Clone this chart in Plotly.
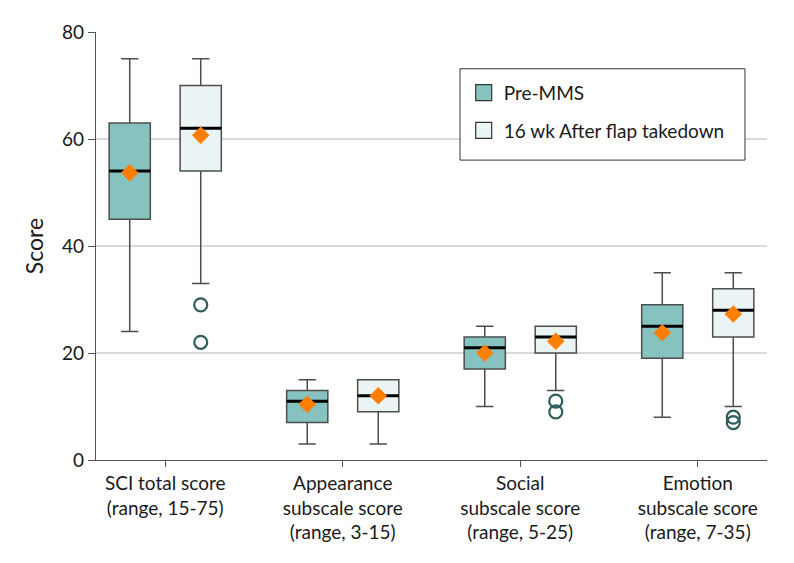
import plotly.graph_objects as go

categories = ["SCI total score<br>(range, 15-75)",
              "Appearance<br>subscale score<br>(range, 3-15)",
              "Social<br>subscale score<br>(range, 5-25)",
              "Emotion<br>subscale score<br>(range, 7-35)"]

pre_low = [24, 3, 10, 8]
pre_q1 = [45, 7, 17, 19]
pre_med = [54, 11, 21, 25]
pre_q3 = [63, 13, 23, 29]
pre_high = [75, 15, 25, 35]
pre_mean = [53.7, 10.4, 20.0, 23.8]
pre_outliers = [[], [], [], []]

post_low = [33, 3, 13, 10]
post_q1 = [54, 9, 20, 23]
post_med = [62, 12, 23, 28]
post_q3 = [70, 15, 25, 32]
post_high = [75, 15, 25, 35]
post_mean = [60.7, 12.0, 22.2, 27.3]
post_outliers = [[29, 22], [], [11, 9], [8, 7]]

series = [
    ("Pre-MMS", -0.2, pre_low, pre_q1, pre_med, pre_q3, pre_high, pre_mean, pre_outliers, "#86C3C0"),
    ("16 wk After flap takedown", 0.2, post_low, post_q1, post_med, post_q3, post_high, post_mean, post_outliers, "#EAF4F4"),
]

BOX_W = 0.232
FONT = "Lato"
LINE_C = "#4d4d4d"
fig = go.Figure()

for gi, (name, off, lo, q1, med, q3, hi, mean, outl, color) in enumerate(series):
    xs = [i + off for i in range(len(categories))]
    fig.add_trace(go.Box(
        name=name, x=xs, q1=q1, median=med, q3=q3, lowerfence=lo, upperfence=hi,
        fillcolor=color, line=dict(color=LINE_C, width=1.5),
        width=BOX_W, whiskerwidth=0.42, boxpoints=False,
        showlegend=False, hoverinfo="skip",
    ))
    # legend entry with square swatch
    fig.add_trace(go.Scatter(
        x=[None], y=[None], mode="markers", name=name,
        marker=dict(symbol="square", size=16, color=color, line=dict(color="#333333", width=1.2)),
        legendgroup=name, showlegend=True,
    ))
    # thick median lines
    mx, my = [], []
    for x, m in zip(xs, med):
        mx += [x - BOX_W / 2, x + BOX_W / 2, None]
        my += [m, m, None]
    fig.add_trace(go.Scatter(x=mx, y=my, mode="lines", line=dict(color="black", width=3),
                             showlegend=False, hoverinfo="skip"))
    # outliers
    ox, oy = [], []
    for x, pts in zip(xs, outl):
        for p in pts:
            ox.append(x)
            oy.append(p)
    if ox:
        fig.add_trace(go.Scatter(x=ox, y=oy, mode="markers",
                                 marker=dict(symbol="circle-open", size=13, color="#2E5E5B",
                                             line=dict(width=2.2, color="#2E5E5B")),
                                 showlegend=False, hoverinfo="skip"))
    # means
    fig.add_trace(go.Scatter(x=xs, y=mean, mode="markers",
                             marker=dict(symbol="diamond", size=13.5, color="#FF7F00"),
                             showlegend=False, hoverinfo="skip"))

# page body has an 8px default margin; margins compensate so the plot area lands in place
fig.update_layout(
    width=794, height=563,
    margin=dict(l=88, r=35, t=21, b=111),
    plot_bgcolor="white", paper_bgcolor="white",
    font=dict(family=FONT, size=19, color="#1a1a1a"),
    showlegend=True,
    legend=dict(x=0.548, y=0.9024, xanchor="left", yanchor="top",
                borderwidth=0, bgcolor="rgba(0,0,0,0)",
                font=dict(size=19, family=FONT), traceorder="grouped",
                tracegroupgap=10, itemwidth=30),
    shapes=[dict(type="rect", xref="paper", yref="paper",
                 x0=0.5425, x1=0.9672, y0=0.7007, y1=0.9142,
                 line=dict(color="#333333", width=1), fillcolor="white", layer="above")],
    xaxis=dict(range=[-0.39, 3.39], tickmode="array", tickvals=list(range(len(categories))),
               ticktext=categories, showgrid=False, zeroline=False, showline=True,
               linecolor="#555555", linewidth=1.2, ticks="outside", ticklen=6,
               tickcolor="#555555", tickfont=dict(size=19, family=FONT)),
    yaxis=dict(range=[0, 80], tickvals=[0, 20, 40, 60, 80], showgrid=True,
               gridcolor="#d9d9d9", gridwidth=1.5, zeroline=False, showline=True,
               linecolor="#555555", linewidth=1.2, ticks="outside", ticklen=7,
               tickcolor="#555555", title=dict(text="Score", standoff=12),
               tickfont=dict(size=19, family=FONT)),
)

fig.write_html("out.html")
